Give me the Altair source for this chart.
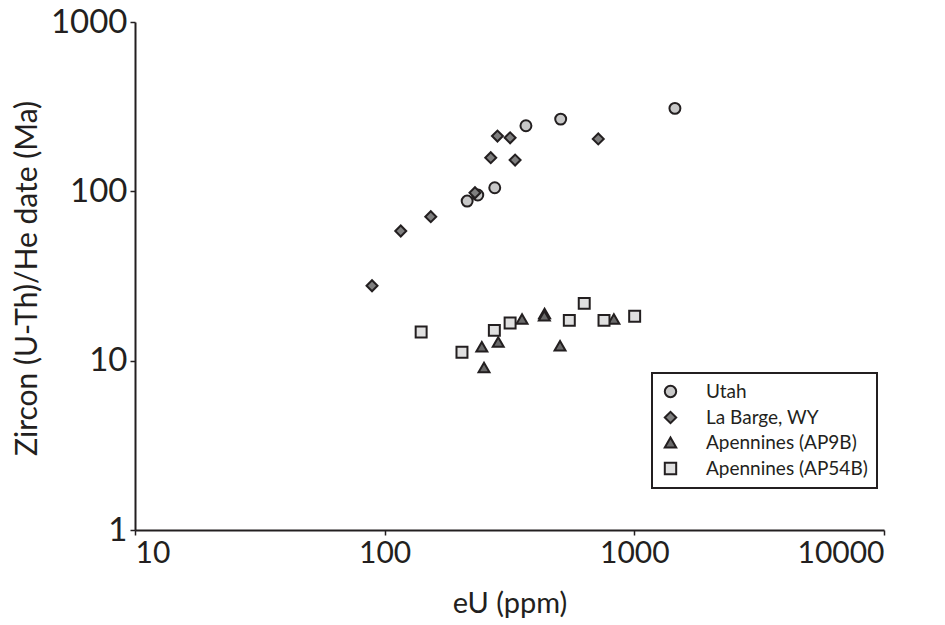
import altair as alt
import pandas as pd

series_names = ["Utah", "La Barge, WY", "Apennines (AP9B)", "Apennines (AP54B)"]

utah_eu = [214, 236, 276, 368, 507, 1454]
utah_age = [87.6, 95.1, 105.0, 244.0, 267.0, 309.0]

labarge_eu = [89, 116, 153, 230, 266, 283, 318, 333, 717]
labarge_age = [27.7, 58.3, 70.8, 98.1, 158.0, 212.0, 207.0, 153.0, 204.0]

ap9b_eu = [245, 250, 285, 355, 437, 436, 504, 828]
ap9b_age = [12.1, 9.1, 12.9, 17.6, 19.0, 18.4, 12.25, 17.6]

ap54b_eu = [140, 204, 275, 318, 549, 630, 756, 1003]
ap54b_age = [14.75, 11.2, 15.1, 16.7, 17.3, 21.8, 17.3, 18.3]

rows = []
for name, xs, ys in [
    (series_names[0], utah_eu, utah_age),
    (series_names[1], labarge_eu, labarge_age),
    (series_names[2], ap9b_eu, ap9b_age),
    (series_names[3], ap54b_eu, ap54b_age),
]:
    for x, y in zip(xs, ys):
        rows.append({"series": name, "eU": x, "age": y})
df = pd.DataFrame(rows)

ink = "#231f20"
font = "Lato"

shapes = ["circle", "diamond", "triangle-up", "square"]
fills = ["#c8c8c8", "#7f7f7f", "#6a6a6a", "#e0e0e0"]
strokes = [ink, ink, ink, ink]

legend = alt.Legend(
    title=None,
    symbolStrokeWidth=2,
    symbolOpacity=1,
    symbolSize=130,
    labelLimit=400,
)

chart = (
    alt.Chart(df)
    .mark_point(filled=False, strokeWidth=2, opacity=1, size=120)
    .encode(
        x=alt.X(
            "eU:Q",
            scale=alt.Scale(type="log", domain=[10, 10000], nice=False),
            axis=alt.Axis(
                values=[10, 100, 1000, 10000],
                format="d",
                title="eU (ppm)",
                titleX=374.5,
                titleY=73,
                titleBaseline="middle",
                titleAlign="center",
                labelFontSize=30,
                titleFontSize=29,
            ),
        ),
        y=alt.Y(
            "age:Q",
            scale=alt.Scale(type="log", domain=[1, 1000], nice=False),
            axis=alt.Axis(
                values=[1, 10, 100, 1000],
                format="d",
                title="Zircon (U-Th)/He date (Ma)",
                titleX=-108,
                titleY=256,
                titleAngle=-90,
                titleBaseline="middle",
                titleAlign="center",
                labelFontSize=33,
                titleFontSize=30,
            ),
        ),
        shape=alt.Shape(
            "series:N",
            scale=alt.Scale(domain=series_names, range=shapes),
            legend=legend,
        ),
        fill=alt.Fill(
            "series:N",
            scale=alt.Scale(domain=series_names, range=fills),
            legend=legend,
        ),
        stroke=alt.Stroke(
            "series:N",
            scale=alt.Scale(domain=series_names, range=strokes),
            legend=legend,
        ),
        fillOpacity=alt.value(1),
    )
    .properties(
        width=749,
        height=508,
        autosize=alt.AutoSizeParams(type="none"),
        padding={"left": 135, "top": 22, "right": 61, "bottom": 95},
    )
    .configure_view(stroke=None)
    .configure_axis(
        grid=False,
        domainColor=ink,
        domainWidth=2,
        tickColor=ink,
        tickWidth=1.5,
        tickSize=5,
        labelFont=font,
        labelColor=ink,
        labelPadding=3,
        titleFont=font,
        titleFontWeight="normal",
        titleColor=ink,
    )
    .configure_legend(
        orient="none",
        legendX=517,
        legendY=351,
        strokeColor=ink,
        strokeWidth=2,
        fillColor="white",
        padding=9,
        labelFont=font,
        labelFontSize=19,
        labelColor=ink,
        labelOffset=26,
        rowPadding=5,
        cornerRadius=0,
    )
)

chart.save("out.html", embed_options={"renderer": "svg", "actions": False})
